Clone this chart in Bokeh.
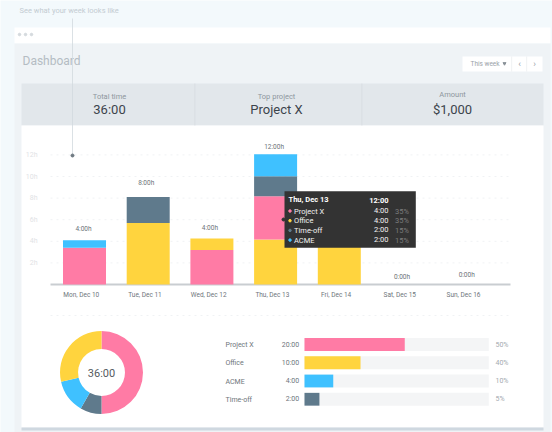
from bokeh.core.properties import value
from bokeh.embed import file_html
from bokeh.models import ColumnDataSource, FixedTicker, LinearAxis, Range1d
from bokeh.plotting import figure
from bokeh.resources import INLINE
from math import pi

# ---------- data ----------
days = ["Mon, Dec 10", "Tue, Dec 11", "Wed, Dec 12", "Thu, Dec 13", "Fri, Dec 14", "Sat, Dec 15", "Sun, Dec 16"]
day_totals = ["4:00h", "8:00h", "4:00h", "12:00h", "", "0:00h", "0:00h"]
project_x = [3.4, 0, 3.2, 4.0, 0, 0, 0]
office = [0, 5.7, 1.06, 4.17, 4.0, 0, 0]
time_off = [0, 2.4, 0, 1.85, 0, 0, 0]
acme = [0.7, 0, 0, 2.05, 0, 0, 0]
stack_order = [["x", "a"], ["o", "t"], ["x", "o"], ["o", "x", "t", "a"], ["o"], [], []]
hour_ticks = [2, 4, 6, 8, 10, 12]
hour_labels = ["2h", "4h", "6h", "8h", "10h", "12h"]

donut_names = ["Project X", "Time-off", "ACME", "Office"]
donut_values = [18.0, 3.0, 4.7, 10.3]

project_names = ["Project X", "Office", "ACME", "Time-off"]
project_times = ["20:00", "10:00", "4:00", "2:00"]
project_shares = ["50%", "40%", "10%", "5%"]
project_bar_pct = [54.4, 30.4, 15.6, 8.1]

tip_names = ["Project X", "Office", "Time-off", "ACME"]
tip_times = ["4:00", "4:00", "2:00", "2:00"]
tip_shares = ["35%", "35%", "15%", "15%"]

# ---------- styling and layout ----------
PINK, YELLOW, BLUE, SLATE = "#ff7ba5", "#ffd43e", "#3fc1ff", "#5f7a8c"
COLORS = {"x": PINK, "o": YELLOW, "t": SLATE, "a": BLUE}
FONT = "Roboto"
# the figure covers window pixels X0..X1, Y0..Y1; all layout below is in window pixels
X0, X1, Y0, Y1 = 0, 552, 0, 432

p = figure(width=X1 - X0, height=Y1 - Y0, x_range=(X0, X1), y_range=(Y1, Y0), toolbar_location=None,
           output_backend="svg", x_axis_location=None, y_axis_location=None,
           min_border=0, outline_line_color=None, background_fill_color="#f3f9fc",
           border_fill_color="#f3f9fc")
p.grid.visible = False

# scales of the bar chart: day 0 at px 84 (63.7 px per day), 0 h at px 284 (10.8 px per hour)
DX0, DXS, HY0, HYS = 84, 63.7, 284, 10.8
p.extra_x_ranges["days"] = Range1d((X0 - DX0) / DXS, (X1 - DX0) / DXS)
p.extra_x_ranges["labels"] = Range1d((X0 - DX0 + 3.2) / DXS, (X1 - DX0 + 3.2) / DXS)
p.extra_y_ranges["hours"] = Range1d((HY0 - Y1) / HYS, (HY0 - Y0) / HYS)
# scale of the horizontal bars
PX0, PXS, RY0, RYS = 304, 1.843, 344, 18.25
p.extra_x_ranges["pct"] = Range1d((X0 - PX0) / PXS, (X1 - PX0) / PXS)
p.extra_y_ranges["rows"] = Range1d((Y1 - RY0) / RYS, (Y0 - RY0) / RYS)


def box(l, r, t, b, color, **kw):
    p.quad(left=l, right=r, top=t, bottom=b, fill_color=color, line_color=None, **kw)


def txt(x, y, s, size, color, align="left", style="normal"):
    p.text(x=[x], y=[y], text=[s], text_font=value(FONT), text_font_size=f"{size}px", text_color=color,
           text_align=align, text_baseline="middle", text_font_style=style)


# ---------- page chrome ----------
box(14, 550, 27, 43, "#ffffff")
box(14, 550, 43, 432, "#eff3f6")
box(21, 543, 83, 125, "#e2e7eb")
box(21, 543, 125, 427, "#ffffff")
box(21, 543, 427, 430, "#cfd8e0")
box(194, 194.8, 83, 125, "#d5dbe0")
box(361, 361.8, 83, 125, "#d5dbe0")
p.scatter(x=[19, 25, 31], y=[34, 34, 34], size=2.5, color="#d5dade")
box(462, 542, 56, 71, "#ffffff")
box(511, 511.6, 56, 71, "#e6e9ec")
box(526, 526.6, 56, 71, "#e6e9ec")
txt(470, 63, "This week", 6.5, "#9aa2a8")
p.scatter(x=[504], y=[63], marker="inverted_triangle", size=3, color="#8a9298")
txt(519, 63, "‹", 9, "#9aa2a8", "center")
txt(534, 63, "›", 9, "#9aa2a8", "center")
txt(19, 10, "See what your week looks like", 7.5, "#c3ccd2")
txt(22, 60, "Dashboard", 12, "#b4bcc3")

txt(109, 96, "Total time", 7.5, "#8e979e", "center")
txt(109, 109, "36:00", 13, "#3c444b", "center")
txt(276, 96, "Top project", 7.5, "#8e979e", "center")
txt(276, 109, "Project X", 13, "#3c444b", "center")
txt(452, 94, "Amount", 7.5, "#8e979e", "center")
txt(452, 109, "$1,000", 13, "#3c444b", "center")

# ---------- stacked bars ----------
gx0, gx1 = (50 - DX0) / DXS, (510 - DX0) / DXS
p.segment(x0=[gx0] * 6, x1=[gx1] * 6, y0=hour_ticks, y1=hour_ticks, x_range_name="days",
          y_range_name="hours", line_color="#f0f2f4", line_width=1, line_dash="dotted")
p.segment(x0=[gx0], x1=[gx1], y0=[0], y1=[0], x_range_name="days", y_range_name="hours",
          line_color="#c9cdd1", line_width=2.2)

series = {"x": project_x, "o": office, "t": time_off, "a": acme}
for d, order in enumerate(stack_order):
    bottom = 0.0
    for key in order:
        v = series[key][d]
        p.vbar(x=[d], width=0.675, bottom=[bottom], top=[bottom + v], fill_color=COLORS[key],
               line_color=None, x_range_name="days", y_range_name="hours")
        bottom += v

total_src = ColumnDataSource(dict(
    x=list(range(7)),
    y=[sum(s[i] for s in series.values()) for i in range(7)],
    t=day_totals,
    dx=[-1, -2, -2, -1.5, 0, -1, 0],
    dy=[-11, -14, -10, -7.5, 0, -8, -10],
))
p.text(x="x", y="y", text="t", source=total_src, x_offset="dx", y_offset="dy", x_range_name="days",
       y_range_name="hours", text_font=value(FONT), text_font_size="6.5px", text_color="#6b7277",
       text_align="center", text_baseline="middle")

xax = LinearAxis(x_range_name="labels", y_range_name="hours", fixed_location=0,
                 ticker=FixedTicker(ticks=list(range(7))),
                 major_label_overrides={i: d for i, d in enumerate(days)},
                 major_label_text_font=FONT, major_label_text_font_size="6.5px",
                 major_label_text_color="#6e757b", major_label_standoff=0,
                 axis_line_color=None, major_tick_line_color=None, minor_tick_line_color=None)
p.add_layout(xax, "below")
yax = LinearAxis(x_range_name="days", y_range_name="hours", fixed_location=(44 - DX0) / DXS,
                 ticker=FixedTicker(ticks=hour_ticks),
                 major_label_overrides=dict(zip(hour_ticks, hour_labels)),
                 major_label_text_font=FONT, major_label_text_font_size="7px",
                 major_label_text_color="#dfe3e6", major_label_standoff=1,
                 axis_line_color=None, major_tick_line_color=None, minor_tick_line_color=None)
p.add_layout(yax, "left")

# annotation line from the caption to the chart
box(71.6, 72.4, 18, 155, "#d3dadf")
p.scatter(x=[72], y=[155], size=3, color="#6f7a82")

# ---------- tooltip ----------
box(284, 415.3, 190.7, 247.3, "#333333")
p.scatter(x=[283], y=[219], size=3, color="#333333")
txt(288, 199, "Thu, Dec 13", 7.5, "#ffffff", style="bold")
txt(388, 199.5, "12:00", 7.5, "#ffffff", "right", "bold")
tip_colors = [PINK, YELLOW, SLATE, BLUE]
for i, (n, t, s) in enumerate(zip(tip_names, tip_times, tip_shares)):
    y = 210.5 + 9.7 * i
    p.scatter(x=[289.5], y=[y], size=2.5, color=tip_colors[i])
    txt(293.5, y, n, 7.5, "#f2f2f2")
    txt(388, y - 0.5, t, 7.5, "#f2f2f2", "right")
    txt(408.5, y, s, 7.5, "#7d7d7d", "right")

# ---------- separator ----------
p.segment(x0=[50], x1=[510], y0=[315], y1=[315], line_color="#f0f2f4", line_width=1, line_dash="dotted")

# ---------- donut (clockwise from 12 o'clock) ----------
total = sum(donut_values)
donut_colors = {"Project X": PINK, "Time-off": SLATE, "ACME": BLUE, "Office": YELLOW}
angle = pi / 2
for name, v in zip(donut_names, donut_values):
    sweep = 2 * pi * v / total
    p.annular_wedge(x=[101], y=[372], inner_radius=23.5, outer_radius=41.5,
                    inner_radius_units="screen", outer_radius_units="screen",
                    start_angle=angle - sweep, end_angle=angle, direction="anticlock",
                    fill_color=donut_colors[name], line_color=None)
    angle -= sweep
txt(101, 372.5, "36:00", 11, "#555b60", "center")

# ---------- horizontal bars ----------
rows = list(range(4))
p.hbar(y=rows, left=0, right=[100] * 4, height=0.7, fill_color="#f4f5f6", line_color=None,
       x_range_name="pct", y_range_name="rows")
p.hbar(y=rows, left=0, right=project_bar_pct, height=0.7,
       fill_color=[PINK, YELLOW, BLUE, SLATE], line_color=None, x_range_name="pct", y_range_name="rows")
for i in rows:
    y = RY0 + RYS * i
    txt(225, y + 0.4 * i, project_names[i], 7, "#6e757b")
    txt(298.7, y, project_times[i], 7, "#6e757b", "right")
    txt(495, y, project_shares[i], 7, "#a4aaaf")

open("out.html", "w").write(file_html(p, INLINE))
